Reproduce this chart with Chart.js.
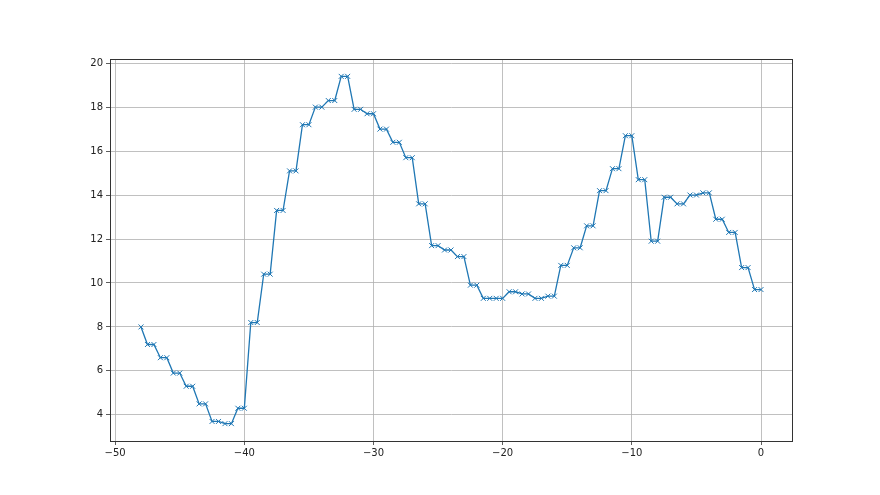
<!DOCTYPE html>
<html>
<head>
<meta charset="utf-8">
<script src="https://cdn.jsdelivr.net/npm/chart.js@4/dist/chart.umd.min.js"></script>
<style>
  html, body { margin: 0; padding: 0; background: #fff; }
  #wrap { width: 880px; height: 495px; }
</style>
</head>
<body>
<div id="wrap"><canvas id="lineChart" width="880" height="495"></canvas></div>
<script>
// x positions of the samples (half-unit steps)
const xValues = [
    -48, -47.5, -47, -46.5, -46, -45.5, -45, -44.5, -44, -43.5, -43, -42.5, -42,
    -41.5, -41, -40.5, -40, -39.5, -39, -38.5, -38, -37.5, -37, -36.5, -36,
    -35.5, -35, -34.5, -34, -33.5, -33, -32.5, -32, -31.5, -31, -30.5, -30,
    -29.5, -29, -28.5, -28, -27.5, -27, -26.5, -26, -25.5, -25, -24.5, -24,
    -23.5, -23, -22.5, -22, -21.5, -21, -20.5, -20, -19.5, -19, -18.5, -18,
    -17.5, -17, -16.5, -16, -15.5, -15, -14.5, -14, -13.5, -13, -12.5, -12,
    -11.5, -11, -10.5, -10, -9.5, -9, -8.5, -8, -7.5, -7, -6.5, -6,
    -5.5, -5, -4.5, -4, -3.5, -3, -2.5, -2, -1.5, -1, -0.5, 0
];
const yValues = [
    8.0, 7.2, 7.2, 6.6, 6.6, 5.9, 5.9, 5.3, 5.3, 4.5, 4.5, 3.7, 3.7,
    3.6, 3.6, 4.3, 4.3, 8.2, 8.2, 10.4, 10.4, 13.3, 13.3, 15.1, 15.1,
    17.2, 17.2, 18.0, 18.0, 18.3, 18.3, 19.4, 19.4, 17.9, 17.9, 17.7, 17.7,
    17.0, 17.0, 16.4, 16.4, 15.7, 15.7, 13.6, 13.6, 11.7, 11.7, 11.5, 11.5,
    11.2, 11.2, 9.9, 9.9, 9.3, 9.3, 9.3, 9.3, 9.6, 9.6, 9.5, 9.5,
    9.3, 9.3, 9.4, 9.4, 10.8, 10.8, 11.6, 11.6, 12.6, 12.6, 14.2, 14.2,
    15.2, 15.2, 16.7, 16.7, 14.7, 14.7, 11.9, 11.9, 13.9, 13.9, 13.6, 13.6,
    14.0, 14.0, 14.1, 14.1, 12.9, 12.9, 12.3, 12.3, 10.7, 10.7, 9.7, 9.7
];
const xTicks = [-50, -40, -30, -20, -10, 0];
const yTicks = [4, 6, 8, 10, 12, 14, 16, 18, 20];

const points = xValues.map((x, i) => ({ x: x, y: yValues[i] }));

const frame = {
    id: 'frame',
    afterDatasetsDraw(chart) {
        const a = chart.chartArea;
        const c = chart.ctx;
        c.save();
        c.strokeStyle = '#333';
        c.lineWidth = 1;
        c.strokeRect(Math.round(a.left) + 0.5, Math.round(a.top) + 0.5,
            Math.round(a.right - a.left), Math.round(a.bottom - a.top));
        c.restore();
    }
};

const fmt = v => String(v).replace('-', '\u2212');

const ctx = document.getElementById('lineChart').getContext('2d');
const lineChart = new Chart(ctx, {
    type: 'line',
    data: {
        datasets: [{
            data: points,
            borderColor: '#1f77b4',
            backgroundColor: 'rgba(0,0,0,0)',
            borderWidth: 1.3,
            pointStyle: 'crossRot',
            pointRadius: 3.5,
            pointBorderColor: '#1f77b4',
            pointBorderWidth: 1,
            tension: 0
        }]
    },
    options: {
        responsive: false,
        animation: false,
        layout: { padding: { left: 0, right: 88, top: 59, bottom: 0 } },
        plugins: {
            legend: { display: false },
            tooltip: { enabled: false }
        },
        scales: {
            x: {
                type: 'linear',
                min: -50.4,
                max: 2.4,
                afterBuildTicks: s => { s.ticks = xTicks.map(v => ({ value: v })); },
                afterFit: s => { s.height = 54; },
                grid: { color: '#b0b0b0', lineWidth: 0.8, tickColor: '#333', tickLength: 4 },
                border: { color: '#333', width: 1 },
                ticks: {
                    color: '#222',
                    padding: 2,
                    maxRotation: 0,
                    font: { family: 'DejaVu Sans', size: 10 },
                    callback: v => fmt(v)
                }
            },
            y: {
                min: 2.81,
                max: 20.19,
                afterBuildTicks: s => { s.ticks = yTicks.map(v => ({ value: v })); },
                afterFit: s => { s.width = 110; },
                grid: { color: '#b0b0b0', lineWidth: 0.8, tickColor: '#333', tickLength: 4 },
                border: { color: '#333', width: 1 },
                ticks: {
                    color: '#222',
                    padding: 3,
                    font: { family: 'DejaVu Sans', size: 10 },
                    callback: v => fmt(v)
                }
            }
        }
    },
    plugins: [frame]
});
</script>
</body>
</html>
